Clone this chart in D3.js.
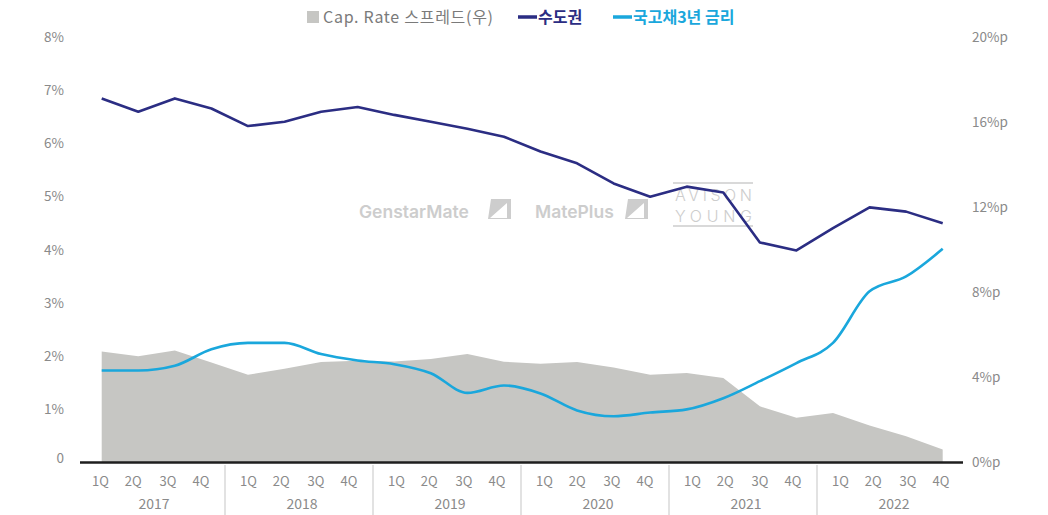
<!DOCTYPE html>
<html>
<head>
<meta charset="utf-8">
<script src="https://cdn.jsdelivr.net/npm/d3@7"></script>
<style>
  body { margin: 0; background: #fff; }
  svg { display: block; font-family: "Noto Sans CJK KR", "Noto Sans", sans-serif; }
</style>
</head>
<body>
<svg id="chart" width="1048" height="515"></svg>
<script>
// ---- DATA ----
const years = ["2017", "2018", "2019", "2020", "2021", "2022"];
const quarters = ["1Q", "2Q", "3Q", "4Q"];
const periods = years.flatMap(y => quarters.map(q => `${y}-${q}`));

// Cap. Rate 스프레드 (right axis, %p)
const spread = [5.22, 5.0, 5.27, 4.7, 4.13, 4.41, 4.73, 4.79, 4.75, 4.87, 5.1, 4.74,
                4.65, 4.73, 4.47, 4.13, 4.21, 3.97, 2.64, 2.1, 2.33, 1.74, 1.24, 0.61];
// 수도권 (left axis, %)
const capital = [6.85, 6.6, 6.85, 6.66, 6.33, 6.41, 6.6, 6.69, 6.54, 6.41, 6.28, 6.13,
                 5.85, 5.63, 5.25, 5.0, 5.19, 5.08, 4.14, 3.99, 4.41, 4.8, 4.72, 4.5];
// 국고채3년 금리 (left axis, %)
const bond = [1.73, 1.73, 1.82, 2.13, 2.25, 2.25, 2.04, 1.92, 1.85, 1.68, 1.31, 1.45,
              1.3, 0.98, 0.87, 0.94, 1.0, 1.21, 1.53, 1.87, 2.25, 3.22, 3.5, 4.02];

const leftTicks = [0, 1, 2, 3, 4, 5, 6, 7, 8];
const rightTicks = [0, 4, 8, 12, 16, 20];

const legendItems = [
  { label: "Cap. Rate 스프레드(우)", type: "box", color: "#c6c6c3", text: "#7a7a7a" },
  { label: "수도권", type: "line", color: "#2b2d83", text: "#2b2d83" },
  { label: "국고채3년 금리", type: "line", color: "#1aa7dc", text: "#1aa7dc" }
];

// ---- SETUP ----
const svg = d3.select("#chart");

const x = d3.scalePoint().domain(periods).range([101.7, 942.7]);
const yearBand = d3.scaleBand().domain(years).range([77, 965]);
const yL = d3.scaleLinear().domain([0, 8]).range([462.5, 37.3]);
const yR = d3.scaleLinear().domain([0, 20]).range([462.5, 37.3]);

const tickColor = "#8a8a8a";

// watermarks
const wm = svg.append("g").attr("fill", "#cdcdcd").attr("font-family", "Inter, 'Noto Sans', sans-serif");
wm.append("text").attr("x", 359).attr("y", 218).attr("font-size", 17.5).attr("font-weight", 600).text("GenstarMate");
wm.append("path").attr("d", "M491,199 h20 v20 h-23 z M490,218 l17,-15 v15 z").attr("fill-rule", "evenodd");
wm.append("text").attr("x", 535).attr("y", 218).attr("font-size", 17.5).attr("font-weight", 600).text("MatePlus");
wm.append("path").attr("d", "M628,199 h20 v20 h-23 z M627,218 l17,-15 v15 z").attr("fill-rule", "evenodd");
wm.append("line").attr("x1", 673).attr("x2", 753).attr("y1", 183).attr("y2", 183).attr("stroke", "#cdcdcd").attr("stroke-width", 1.5);
wm.append("line").attr("x1", 673).attr("x2", 753).attr("y1", 226).attr("y2", 226).attr("stroke", "#cdcdcd").attr("stroke-width", 1.5);
wm.append("text").attr("x", 675).attr("y", 201).attr("font-size", 16).attr("font-weight", 300).attr("textLength", 77).text("AVISON");
wm.append("text").attr("x", 675).attr("y", 222).attr("font-size", 16).attr("font-weight", 300).attr("textLength", 77).text("YOUNG");

// spread area
svg.append("path")
  .datum(spread)
  .attr("fill", "#c6c6c3")
  .attr("d", d3.area()
    .x((d, i) => x(periods[i]))
    .y0(yR(0))
    .y1(d => yR(d)));

// lines
svg.append("path")
  .datum(capital)
  .attr("fill", "none")
  .attr("stroke", "#2b2d83")
  .attr("stroke-width", 2.6)
  .attr("stroke-linejoin", "round")
  .attr("d", d3.line().x((d, i) => x(periods[i])).y(d => yL(d)));

svg.append("path")
  .datum(bond)
  .attr("fill", "none")
  .attr("stroke", "#1aa7dc")
  .attr("stroke-width", 2.6)
  .attr("stroke-linejoin", "round")
  .attr("d", d3.line().curve(d3.curveMonotoneX).x((d, i) => x(periods[i])).y(d => yL(d)));

// baseline
svg.append("line")
  .attr("x1", 80).attr("x2", 963)
  .attr("y1", yL(0)).attr("y2", yL(0))
  .attr("stroke", "#1e1e1e").attr("stroke-width", 2.5);

// left axis labels
svg.append("g").selectAll("text")
  .data(leftTicks)
  .join("text")
  .attr("x", 64)
  .attr("y", d => d === 0 ? yL(d) - 4 : yL(d))
  .attr("dy", "0.35em")
  .attr("text-anchor", "end")
  .attr("fill", tickColor)
  .attr("font-size", 13.5)
  .text(d => d === 0 ? "0" : d + "%");

// right axis labels
svg.append("g").selectAll("text")
  .data(rightTicks)
  .join("text")
  .attr("x", 972)
  .attr("y", d => yR(d))
  .attr("dy", "0.35em")
  .attr("fill", tickColor)
  .attr("font-size", 13.5)
  .text(d => d + "%p");

// x axis: quarter labels, year labels, separators
const qOffsets = [0.158, 0.38, 0.615, 0.838];
const xAxisG = svg.append("g");

years.forEach((yr, yi) => {
  const x0 = yearBand(yr);
  const bw = yearBand.bandwidth();
  quarters.forEach((q, qi) => {
    xAxisG.append("text")
      .attr("x", x0 + bw * qOffsets[qi])
      .attr("y", 486)
      .attr("text-anchor", "middle")
      .attr("fill", tickColor)
      .attr("font-size", 13)
      .text(q);
  });
  xAxisG.append("text")
    .attr("x", x0 + bw / 2 + 3)
    .attr("y", 509)
    .attr("text-anchor", "middle")
    .attr("fill", tickColor)
    .attr("font-size", 14)
    .text(yr);
  if (yi > 0) {
    xAxisG.append("line")
      .attr("x1", x0).attr("x2", x0)
      .attr("y1", 465).attr("y2", 515)
      .attr("stroke", "#d9d9d9").attr("stroke-width", 1.5);
  }
});

// legend
const legend = svg.append("g").attr("font-size", 16);
const legendX = [307, 518, 613];
legendItems.forEach((d, i) => {
  const g = legend.append("g").attr("transform", `translate(${legendX[i]},17)`);
  if (d.type === "box") {
    g.append("rect").attr("x", 0).attr("y", -6).attr("width", 12).attr("height", 12).attr("fill", d.color);
    g.append("text").attr("x", 16).attr("dy", "0.35em").attr("fill", d.text)
      .attr("textLength", 170).text(d.label);
  } else {
    g.append("line").attr("x1", 0).attr("x2", 19).attr("y1", 0).attr("y2", 0)
      .attr("stroke", d.color).attr("stroke-width", 3.5);
    g.append("text").attr("x", 20).attr("dy", "0.35em").attr("fill", d.text)
      .attr("font-weight", 700).text(d.label);
  }
});
</script>
</body>
</html>
